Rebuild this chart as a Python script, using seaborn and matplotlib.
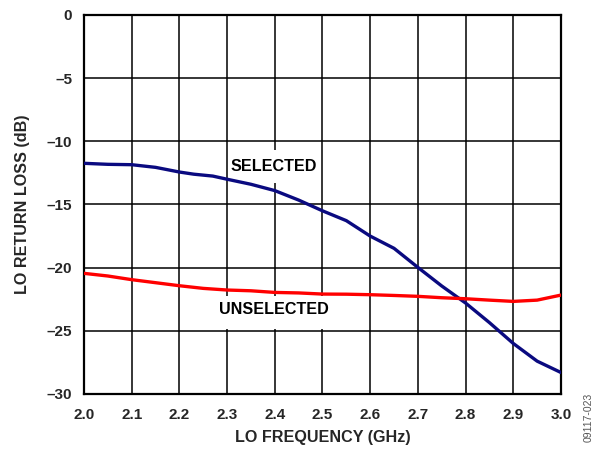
import matplotlib
matplotlib.use("Agg")
import matplotlib.pyplot as plt
from matplotlib.patches import Rectangle
import numpy as np
import pandas as pd
import seaborn as sns

# LO frequency sweep (GHz)
freq_selected = [2.00, 2.05, 2.10, 2.15, 2.20, 2.23, 2.27, 2.30, 2.35, 2.40, 2.45,
                 2.50, 2.55, 2.60, 2.65, 2.70, 2.75, 2.80, 2.85, 2.90, 2.95, 3.00]
rl_selected = [-11.74, -11.82, -11.85, -12.06, -12.43, -12.60, -12.75, -13.00, -13.40,
               -13.90, -14.65, -15.50, -16.28, -17.50, -18.47, -19.98, -21.45,
               -22.80, -24.35, -26.00, -27.40, -28.30]

freq_unselected = [2.00, 2.05, 2.10, 2.15, 2.20, 2.25, 2.30, 2.35, 2.40, 2.45, 2.50,
                   2.55, 2.60, 2.65, 2.70, 2.75, 2.80, 2.85, 2.90, 2.95, 3.00]
rl_unselected = [-20.45, -20.66, -20.95, -21.19, -21.43, -21.64, -21.77, -21.83, -21.96,
                 -22.00, -22.09, -22.10, -22.14, -22.20, -22.27, -22.38, -22.46, -22.57,
                 -22.67, -22.57, -22.17]

x_ticks = [2.0, 2.1, 2.2, 2.3, 2.4, 2.5, 2.6, 2.7, 2.8, 2.9, 3.0]
y_ticks = [0, -5, -10, -15, -20, -25, -30]
y_tick_labels = ["0", "–5", "–10", "–15", "–20", "–25", "–30"]

sns.set_theme(style="white")
plt.rcParams["font.family"] = ["Liberation Sans", "DejaVu Sans"]
plt.rcParams["font.weight"] = "bold"

df = pd.concat([
    pd.DataFrame({"freq": freq_selected, "rl": rl_selected, "state": "SELECTED"}),
    pd.DataFrame({"freq": freq_unselected, "rl": rl_unselected, "state": "UNSELECTED"}),
])

fig, ax = plt.subplots(figsize=(5.92, 4.49), dpi=100)
fig.subplots_adjust(left=0.1419, right=0.9476, top=0.9666, bottom=0.1225)

sns.lineplot(data=df, x="freq", y="rl", hue="state",
             palette={"SELECTED": "#0a0a80", "UNSELECTED": "#ff0000"},
             linewidth=2.4, legend=False, ax=ax, zorder=4)

ax.set_xlim(2.0, 3.0)
ax.set_ylim(-30, 0)
ax.set_xticks(x_ticks)
ax.set_xticklabels([f"{v:.1f}" for v in x_ticks], fontsize=11, fontweight="bold")
ax.set_yticks(y_ticks)
ax.set_yticklabels(y_tick_labels, fontsize=11, fontweight="bold")
ax.tick_params(axis="x", length=0, pad=10)
ax.tick_params(axis="y", length=0, pad=8.5)

ax.grid(True, color="black", linewidth=1.1)
ax.set_axisbelow(True)
for sp in ax.spines.values():
    sp.set_color("black")
    sp.set_linewidth(1.6)

ax.set_xlabel("LO FREQUENCY (GHz)", fontsize=11.6, fontweight="bold", labelpad=6)
ax.set_ylabel("LO RETURN LOSS (dB)", fontsize=11.6, fontweight="bold", labelpad=12)

# white patches keep the grid clear behind the curve labels
ax.add_patch(Rectangle((2.304, -13.3), 0.189, 2.6, facecolor="white",
                       edgecolor="none", zorder=2))
ax.add_patch(Rectangle((2.279, -24.86), 0.237, 2.58, facecolor="white",
                       edgecolor="none", zorder=2))
ax.text(2.398, -11.96, "SELECTED", ha="center", va="center",
        fontsize=11.6, fontweight="bold", color="black", zorder=3)
ax.text(2.398, -23.3, "UNSELECTED", ha="center", va="center",
        fontsize=11.6, fontweight="bold", color="black", zorder=3)

fig.text(0.994, 0.125, "09117-023", rotation=90, ha="center", va="top",
         fontsize=7.5, color="#555555", fontweight="normal")

fig.savefig("out.png", dpi=100)
